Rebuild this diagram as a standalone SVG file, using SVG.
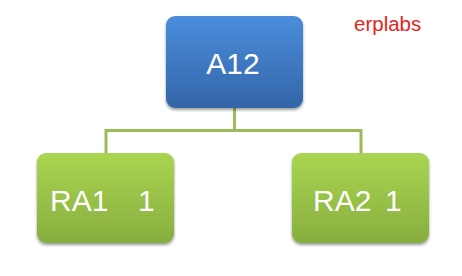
<svg xmlns="http://www.w3.org/2000/svg" width="462" height="276" viewBox="0 0 462 276">
<defs>
<linearGradient id="gb" x1="0" y1="0" x2="0" y2="1">
<stop offset="0" stop-color="#4A8DDC"/>
<stop offset="1" stop-color="#3465A8"/>
</linearGradient>
<linearGradient id="gg" x1="0" y1="0" x2="0" y2="1">
<stop offset="0" stop-color="#AAD552"/>
<stop offset="1" stop-color="#87AE3E"/>
</linearGradient>
<filter id="sh" x="-10%" y="-10%" width="120%" height="125%">
<feGaussianBlur in="SourceAlpha" stdDeviation="1.5"/>
<feOffset dx="0" dy="2" result="b"/>
<feComponentTransfer><feFuncA type="linear" slope="0.4"/></feComponentTransfer>
<feMerge><feMergeNode/><feMergeNode in="SourceGraphic"/></feMerge>
</filter>
</defs>
<style>
.lbl{font-family:"Liberation Sans",Arial,sans-serif;font-size:30px;fill:#fff;}
.conn{fill:none;stroke:#9BBB59;stroke-width:3;}
</style>
<rect width="462" height="276" fill="#fff"/>
<g id="connectors">
<path class="conn" d="M234.5 108 V130.5 M106 153 V130.5 H361 V153"/>
</g>
<g id="A12">
<rect x="166" y="16" width="137" height="92" rx="9" fill="url(#gb)" filter="url(#sh)"/>
<text class="lbl" x="233" y="74" text-anchor="middle">A12</text>
</g>
<g id="RA1">
<rect x="37" y="153" width="137" height="90" rx="9" fill="url(#gg)" filter="url(#sh)"/>
<text class="lbl" y="211"><tspan x="50">RA1</tspan><tspan x="138">1</tspan></text>
</g>
<g id="RA2">
<rect x="292" y="153" width="137" height="90" rx="9" fill="url(#gg)" filter="url(#sh)"/>
<text class="lbl" y="211"><tspan x="313">RA2</tspan><tspan x="385">1</tspan></text>
</g>
<text x="354" y="31" font-family="'Liberation Sans',Arial,sans-serif" font-size="20.5" fill="#E8231A">erplabs</text>
</svg>
